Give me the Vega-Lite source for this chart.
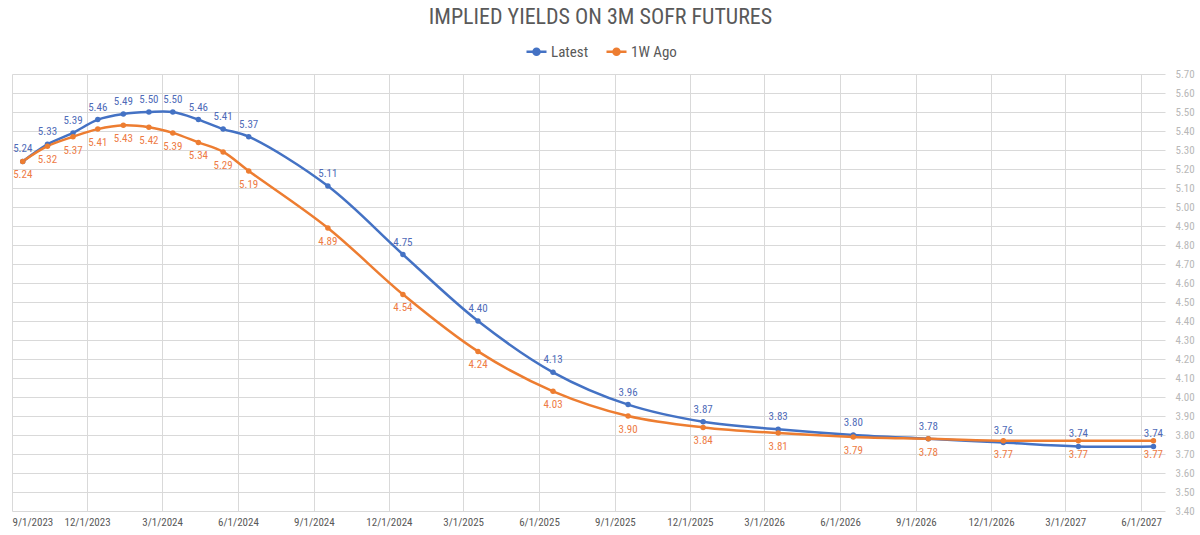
{
  "$schema": "https://vega.github.io/schema/vega-lite/v6.json",
  "width": 1153,
  "height": 437,
  "autosize": {"type": "none"},
  "padding": {"left": 12, "top": 74, "right": 35, "bottom": 24},
  "background": "white",
  "config": {
    "font": "Roboto Condensed, DejaVu Sans Condensed, Roboto",
    "view": {"stroke": null}
  },
  "title": {
    "text": "IMPLIED YIELDS ON 3M SOFR FUTURES",
    "fontSize": 22,
    "fontWeight": "normal",
    "color": "#595959",
    "anchor": "middle",
    "frame": "group",
    "dx": 12,
    "offset": 11
  },
  "data": {
    "values": [
      {"date": "2023-09-14", "series": "Latest", "value": 5.24},
      {"date": "2023-10-14", "series": "Latest", "value": 5.33},
      {"date": "2023-11-14", "series": "Latest", "value": 5.39},
      {"date": "2023-12-14", "series": "Latest", "value": 5.46},
      {"date": "2024-01-14", "series": "Latest", "value": 5.49},
      {"date": "2024-02-14", "series": "Latest", "value": 5.50},
      {"date": "2024-03-14", "series": "Latest", "value": 5.50},
      {"date": "2024-04-14", "series": "Latest", "value": 5.46},
      {"date": "2024-05-14", "series": "Latest", "value": 5.41},
      {"date": "2024-06-14", "series": "Latest", "value": 5.37},
      {"date": "2024-09-18", "series": "Latest", "value": 5.11},
      {"date": "2024-12-18", "series": "Latest", "value": 4.75},
      {"date": "2025-03-19", "series": "Latest", "value": 4.40},
      {"date": "2025-06-18", "series": "Latest", "value": 4.13},
      {"date": "2025-09-17", "series": "Latest", "value": 3.96},
      {"date": "2025-12-17", "series": "Latest", "value": 3.87},
      {"date": "2026-03-18", "series": "Latest", "value": 3.83},
      {"date": "2026-06-17", "series": "Latest", "value": 3.80},
      {"date": "2026-09-16", "series": "Latest", "value": 3.78},
      {"date": "2026-12-16", "series": "Latest", "value": 3.76},
      {"date": "2027-03-17", "series": "Latest", "value": 3.74},
      {"date": "2027-06-16", "series": "Latest", "value": 3.74},
      {"date": "2023-09-14", "series": "1W Ago", "value": 5.24},
      {"date": "2023-10-14", "series": "1W Ago", "value": 5.32},
      {"date": "2023-11-14", "series": "1W Ago", "value": 5.37},
      {"date": "2023-12-14", "series": "1W Ago", "value": 5.41},
      {"date": "2024-01-14", "series": "1W Ago", "value": 5.43},
      {"date": "2024-02-14", "series": "1W Ago", "value": 5.42},
      {"date": "2024-03-14", "series": "1W Ago", "value": 5.39},
      {"date": "2024-04-14", "series": "1W Ago", "value": 5.34},
      {"date": "2024-05-14", "series": "1W Ago", "value": 5.29},
      {"date": "2024-06-14", "series": "1W Ago", "value": 5.19},
      {"date": "2024-09-18", "series": "1W Ago", "value": 4.89},
      {"date": "2024-12-18", "series": "1W Ago", "value": 4.54},
      {"date": "2025-03-19", "series": "1W Ago", "value": 4.24},
      {"date": "2025-06-18", "series": "1W Ago", "value": 4.03},
      {"date": "2025-09-17", "series": "1W Ago", "value": 3.90},
      {"date": "2025-12-17", "series": "1W Ago", "value": 3.84},
      {"date": "2026-03-18", "series": "1W Ago", "value": 3.81},
      {"date": "2026-06-17", "series": "1W Ago", "value": 3.79},
      {"date": "2026-09-16", "series": "1W Ago", "value": 3.78},
      {"date": "2026-12-16", "series": "1W Ago", "value": 3.77},
      {"date": "2027-03-17", "series": "1W Ago", "value": 3.77},
      {"date": "2027-06-16", "series": "1W Ago", "value": 3.77}
    ]
  },
  "encoding": {
    "x": {
      "field": "date",
      "type": "temporal",
      "title": null,
      "scale": {
        "type": "utc",
        "domain": [
          {"year": 2023, "month": 9, "date": 1, "utc": true},
          {"year": 2027, "month": 6, "date": 30, "utc": true}
        ]
      },
      "axis": {
        "values": [
          {"year": 2023, "month": 9, "date": 1, "utc": true},
          {"year": 2023, "month": 12, "date": 1, "utc": true},
          {"year": 2024, "month": 3, "date": 1, "utc": true},
          {"year": 2024, "month": 6, "date": 1, "utc": true},
          {"year": 2024, "month": 9, "date": 1, "utc": true},
          {"year": 2024, "month": 12, "date": 1, "utc": true},
          {"year": 2025, "month": 3, "date": 1, "utc": true},
          {"year": 2025, "month": 6, "date": 1, "utc": true},
          {"year": 2025, "month": 9, "date": 1, "utc": true},
          {"year": 2025, "month": 12, "date": 1, "utc": true},
          {"year": 2026, "month": 3, "date": 1, "utc": true},
          {"year": 2026, "month": 6, "date": 1, "utc": true},
          {"year": 2026, "month": 9, "date": 1, "utc": true},
          {"year": 2026, "month": 12, "date": 1, "utc": true},
          {"year": 2027, "month": 3, "date": 1, "utc": true},
          {"year": 2027, "month": 6, "date": 1, "utc": true}
        ],
        "labelExpr": "utcFormat(datum.value, '%-m/%-d/%Y')",
        "grid": true,
        "gridColor": "#d9d9d9",
        "gridWidth": 1,
        "domain": false,
        "ticks": false,
        "labelColor": "#595959",
        "labelFontSize": 11,
        "labelPadding": 5,
        "labelAngle": 0,
        "labelOverlap": false
      }
    },
    "y": {
      "field": "value",
      "type": "quantitative",
      "title": null,
      "scale": {"domain": [3.4, 5.7], "nice": false, "zero": false},
      "axis": {
        "orient": "right",
        "values": [3.4, 3.5, 3.6, 3.7, 3.8, 3.9, 4.0, 4.1, 4.2, 4.3, 4.4, 4.5, 4.6, 4.7, 4.8, 4.9, 5.0, 5.1, 5.2, 5.3, 5.4, 5.5, 5.6, 5.7],
        "format": ".2f",
        "grid": true,
        "gridColor": "#d9d9d9",
        "domain": false,
        "ticks": false,
        "labelColor": "#b8b8b8",
        "labelFontSize": 11,
        "labelPadding": 10
      }
    },
    "color": {
      "field": "series",
      "type": "nominal",
      "title": null,
      "scale": {"domain": ["Latest", "1W Ago"], "range": ["#4472C4", "#ED7D31"]},
      "legend": {
        "orient": "none",
        "legendX": 513,
        "legendY": -34,
        "direction": "horizontal",
        "labelFontSize": 15,
        "labelColor": "#595959",
        "symbolType": "M-1,0L1,0M-0.3,0a0.3,0.3 0 1,0 0.6,0a0.3,0.3 0 1,0 -0.6,0",
        "symbolSize": 400,
        "symbolStrokeWidth": 2.5,
        "labelOffset": 3,
        "columnPadding": 12,
        "encode": {
          "symbols": {"update": {"fill": {"scale": "color", "field": "value"}, "stroke": {"scale": "color", "field": "value"}}}
        }
      }
    }
  },
  "layer": [
    {
      "mark": {"type": "line", "interpolate": "catmull-rom", "strokeWidth": 2.5}
    },
    {
      "mark": {"type": "point", "filled": true, "opacity": 1, "size": 30}
    },
    {
      "transform": [{"filter": "datum.series === 'Latest'"}],
      "mark": {"type": "text", "dy": -12, "fontSize": 11, "color": "#4F6BB8"},
      "encoding": {
        "text": {"field": "value", "type": "quantitative", "format": ".2f"},
        "color": {"value": "#4F6BB8"}
      }
    },
    {
      "transform": [{"filter": "datum.series === '1W Ago'"}],
      "mark": {"type": "text", "dy": 14, "fontSize": 11, "color": "#EE7B45"},
      "encoding": {
        "text": {"field": "value", "type": "quantitative", "format": ".2f"},
        "color": {"value": "#EE7B45"}
      }
    }
  ]
}
